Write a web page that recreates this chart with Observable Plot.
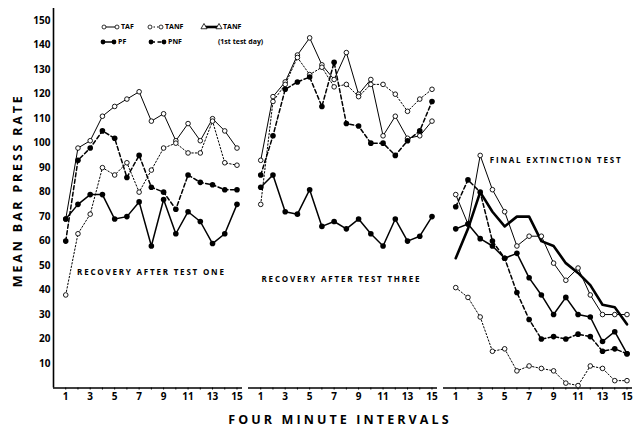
<!DOCTYPE html>
<html><head><meta charset="utf-8">
<script src="https://cdn.jsdelivr.net/npm/d3@7"></script>
<script src="https://cdn.jsdelivr.net/npm/@observablehq/plot@0.6"></script>
<style>
html,body{margin:0;padding:0;background:#fff;}
#wrap{position:relative;width:634px;height:429px;overflow:hidden;}
#legend{position:absolute;left:0;top:0;}
</style></head><body><div id="wrap"></div>
<script>
// ---- data ----
const intervals = [1,2,3,4,5,6,7,8,9,10,11,12,13,14,15];
const panels = ["test1","test3","final"];
const panelTitles = ["RECOVERY AFTER TEST ONE","RECOVERY AFTER TEST THREE","FINAL EXTINCTION TEST"];
const yTicks = [10,20,30,40,50,60,70,80,90,100,110,120,130,140,150];
const xTickLabels = [1,3,5,7,9,11,13,15];
const seriesNames = ["TAF","TANF","TANF1","PF","PNF"];
const legendLabels = ["TAF","TANF","TANF","PF","PNF"];
const legendNote = "(1st test day)";

// Recovery after test one
const tafTest1  = [69, 98, 101, 111, 115, 118, 121, 109, 112, 101, 108, 101, 110, 105, 98];
const tanfTest1 = [38, 63, 71, 90, 87, 92, 80, 89, 98, 100, 96, 96, 109, 92, 91];
const pfTest1   = [69, 75, 79, 79, 69, 70, 76, 58, 77, 63, 72, 68, 59, 63, 75];
const pnfTest1  = [60, 93, 98, 105, 102, 86, 95, 82, 80, 73, 87, 84, 83, 81, 81];
// Recovery after test three
const tafTest3  = [93, 119, 125, 136, 143, 132, 126, 137, 120, 126, 103, 111, 102, 103, 109];
const tanfTest3 = [75, 117, 124, 135, 128, 131, 123, 124, 119, 124, 124, 120, 113, 118, 122];
const pfTest3   = [82, 87, 72, 71, 81, 66, 68, 65, 69, 63, 58, 69, 60, 62, 70];
const pnfTest3  = [87, 103, 122, 125, 127, 115, 133, 108, 107, 100, 100, 95, 101, 105, 117];
// Final extinction test
const tafFinal   = [79, 67, 95, 81, 72, 58, 62, 62, 51, 44, 49, 38, 30, 30, 30];
const tanfFinal  = [41, 37, 29, 15, 16, 7, 9, 8, 7, 2, 1, 9, 8, 3, 3];
const tanf1Final = [53, 65, 80, 72, 66, 70, 70, 60, 58, 51, 47, 42, 34, 33, 26];
const pfFinal    = [65, 67, 61, 58, 53, 55, 45, 38, 30, 37, 30, 29, 19, 23, 14];
const pnfFinal   = [74, 85, 80, 60, 53, 39, 28, 20, 21, 20, 22, 21, 15, 16, 14];

// ---- table ----
const valuesByPanel = {
  test1: {TAF: tafTest1, TANF: tanfTest1, PF: pfTest1, PNF: pnfTest1},
  test3: {TAF: tafTest3, TANF: tanfTest3, PF: pfTest3, PNF: pnfTest3},
  final: {TAF: tafFinal, TANF: tanfFinal, TANF1: tanf1Final, PF: pfFinal, PNF: pnfFinal}
};
const rows = [];
for (const p of panels) for (const s of seriesNames) {
  const vals = valuesByPanel[p][s];
  if (vals) vals.forEach((v, k) => rows.push({panel: p, series: s, interval: intervals[k], value: v}));
}
const titleRows = panels.map((p, i) => ({panel: p, title: panelTitles[i]}));

// ---- styles ----
const lineStyle = {
  TAF:   {strokeWidth: 1},
  TANF:  {strokeWidth: 1, strokeDasharray: "1.5,2"},
  TANF1: {strokeWidth: 2.6},
  PF:    {strokeWidth: 1.5},
  PNF:   {strokeWidth: 1.5, strokeDasharray: "4,2.5"}
};
const font = "'Open Sans', 'DejaVu Sans', sans-serif";
const sel = s => rows.filter(d => d.series === s);
const titlePos = {test1: [8, 47], test3: [7.6, 44.5], final: [9.2, 93]};

const marks = [
  Plot.ruleY([0], {stroke: "black", strokeWidth: 1.3}),
  Plot.ruleX([{panel: "test1"}], {fx: "panel", x: () => 0, y1: () => 0, y2: () => 155, stroke: "black", strokeWidth: 1.6}),
  Plot.axisY({ticks: yTicks, tickSize: 0, tickPadding: 3, label: null, fontSize: 10, fontWeight: 700}),
  Plot.axisX({ticks: intervals, tickSize: 2, tickPadding: 3, tickFormat: d => xTickLabels.includes(d) ? String(d) : "", label: null, fontSize: 10, fontWeight: 700})
];
for (const s of seriesNames) {
  marks.push(Plot.line(sel(s), {x: "interval", y: "value", fx: "panel", stroke: "black", ...lineStyle[s]}));
}
marks.push(Plot.dot(rows.filter(d => d.series === "TAF" || d.series === "TANF"),
  {x: "interval", y: "value", fx: "panel", r: 2.3, fill: "white", stroke: "black", strokeWidth: 0.9}));
marks.push(Plot.dot(rows.filter(d => d.series === "PF" || d.series === "PNF"),
  {x: "interval", y: "value", fx: "panel", r: 2.8, fill: "black", stroke: "none"}));
for (const t of titleRows) {
  marks.push(Plot.text([t], {fx: "panel", x: () => titlePos[t.panel][0], y: () => titlePos[t.panel][1],
    text: "title", fontSize: 8, fontWeight: 700, fill: "black"}));
}
marks.push(Plot.text([{panel: "test3"}], {fx: "panel", frameAnchor: "bottom", dy: 36, dx: -3, text: () => "FOUR MINUTE INTERVALS", fontSize: 12.5, fontWeight: 700}));
marks.push(Plot.text([{panel: "test1"}], {fx: "panel", frameAnchor: "left", textAnchor: "middle", dx: -36, dy: -8, rotate: -90, text: () => "MEAN BAR PRESS RATE", fontSize: 12.5, fontWeight: 700}));

const chart = Plot.plot({
  width: 634, height: 429,
  marginLeft: 52, marginRight: 0, marginTop: 8, marginBottom: 41.5,
  style: {fontFamily: font, color: "black", background: "white", overflow: "visible"},
  fx: {domain: panels, paddingInner: 0.03, paddingOuter: 0, axis: null, label: null},
  x: {domain: [0, 15.45]},
  y: {domain: [0, 155]},
  marks
});
document.getElementById("wrap").appendChild(chart);

// letter spacing for title texts
d3.select(chart).selectAll("text").each(function() {
  const t = this.textContent;
  if (t === "FOUR MINUTE INTERVALS") d3.select(this).attr("letter-spacing", 3.1);
  else if (t === "MEAN BAR PRESS RATE") d3.select(this).attr("letter-spacing", 2.8);
  else if (panelTitles.includes(t)) d3.select(this).attr("letter-spacing", 1.8);
});

// ---- legend overlay ----
const lg = d3.select("#wrap").append("svg").attr("id", "legend").attr("width", 300).attr("height", 55)
  .style("font-family", font).style("font-weight", 700).style("font-size", "7px");
const legendLayout = [
  {x: 104, y: 27, w: 13}, {x: 150, y: 27, w: 11}, {x: 204, y: 27, w: 15},
  {x: 103, y: 42, w: 11}, {x: 151, y: 42, w: 13}
];
seriesNames.forEach((s, i) => {
  const L = legendLayout[i], st = lineStyle[s];
  lg.append("line").attr("x1", L.x).attr("x2", L.x + L.w).attr("y1", L.y).attr("y2", L.y)
    .attr("stroke", "black").attr("stroke-width", st.strokeWidth).attr("stroke-dasharray", st.strokeDasharray || null);
  for (const ex of [L.x, L.x + L.w]) {
    if (s === "TAF" || s === "TANF") lg.append("circle").attr("cx", ex).attr("cy", L.y).attr("r", 2).attr("fill", "white").attr("stroke", "black").attr("stroke-width", 0.8);
    else if (s === "TANF1") lg.append("path").attr("d", d3.symbol(d3.symbolTriangle, 16)()).attr("transform", `translate(${ex},${L.y})`).attr("fill", "white").attr("stroke", "black").attr("stroke-width", 0.8);
    else lg.append("circle").attr("cx", ex).attr("cy", L.y).attr("r", 2.4).attr("fill", "black");
  }
  lg.append("text").attr("x", L.x + L.w + 4).attr("y", L.y).attr("dy", "0.35em").text(legendLabels[i]);
});
lg.append("text").attr("x", 218).attr("y", 42).attr("dy", "0.35em").text(legendNote);
</script>
</body></html>
